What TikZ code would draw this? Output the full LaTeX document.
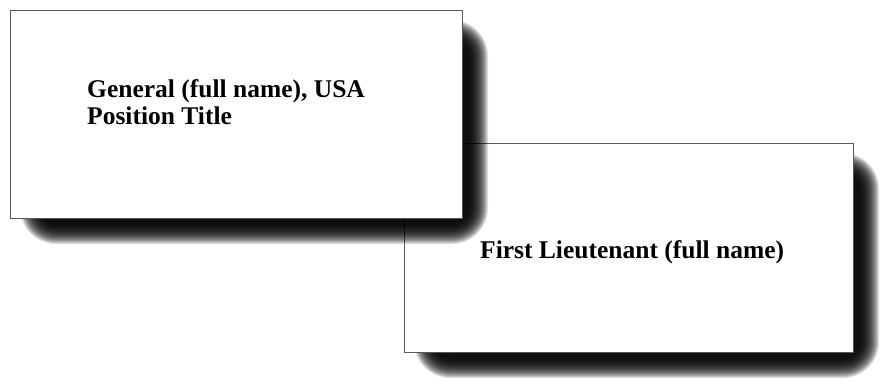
\documentclass[tikz,border=0pt]{standalone}
\usepackage{fontspec}
\setmainfont{Liberation Serif}

% soft drop shadow behind a card: corners x0 y0 x1 y1 (in px units);
% twenty nested translucent layers, each one inset by 1px
\newcommand\cardshadow[4]{%
  \foreach \k in {0,...,19}{%
    \pgfmathsetmacro\rad{36-\k}%
    \fill[black,opacity=0.12,rounded corners=\rad pt]
      ({#1+10+\k},{#2+10+\k}) rectangle ({#3+26-\k},{#4+26-\k});
  }%
}

\tikzset{
  card/.style={draw=black!65, line width=1pt, fill=white, inner sep=0pt,
    anchor=north west, rectangle},
  label/.style={font=\fontsize{25.5}{28}\selectfont\bfseries, inner sep=0pt,
    anchor=base west, text=black}
}

\begin{document}
\begin{tikzpicture}[x=1pt,y=-1pt]
  \useasboundingbox (0,0) rectangle (880,384);
  \fill[white] (0,0) rectangle (880,384);

  % lower card and its shadow
  \cardshadow{404}{143}{853}{352}
  \node[card, minimum width=449pt, minimum height=209pt] (lieut) at (404,143) {};

  % upper card and its shadow, laid over the lower one
  \cardshadow{10}{10}{462}{218}
  \node[card, minimum width=452pt, minimum height=208pt] (general) at (10,10) {};

  \node[label] (genname) at (87,97) {General (full name), USA};
  \node[label] (gentitle) at (87,124) {Position Title};
  \node[label] (ltname) at (480,258) {First Lieutenant (full name)};
\end{tikzpicture}
\end{document}
